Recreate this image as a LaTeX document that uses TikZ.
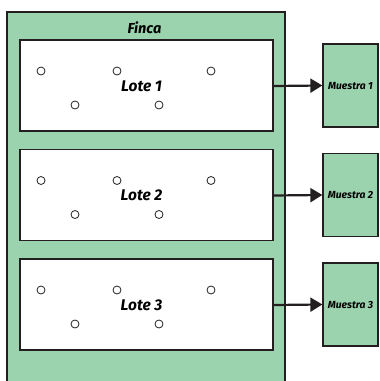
\documentclass[tikz,border=0pt]{standalone}
\usepackage{fontspec}
\setmainfont{Fira Sans}
\usetikzlibrary{arrows.meta}
\definecolor{fincagreen}{HTML}{9BD3AE}
\definecolor{inkline}{HTML}{231F20}
\tikzset{
  lotebox/.style={draw=inkline, line width=1.6pt, fill=white},
  samplebox/.style={draw=inkline, line width=1.3pt, fill=fincagreen, minimum width=55pt, minimum height=83pt, inner sep=0pt},
  plant/.style={circle, draw=inkline, line width=0.8pt, fill=white, minimum size=8pt, inner sep=0pt},
  lotelabel/.style={font=\bfseries\itshape\fontsize{15.5}{17}\selectfont, inner sep=0pt},
  samplelabel/.style={font=\bfseries\itshape\fontsize{10.3}{12}\selectfont, inner sep=0pt},
  feedarrow/.style={draw=inkline, line width=2.2pt, -{Triangle[length=12pt,width=14pt]}}
}
\begin{document}
\begin{tikzpicture}[x=1pt, y=-1pt]
\useasboundingbox (0,0) rectangle (380,381);
% farm area
\fill[fincagreen] (7,12) rectangle (285,381);
\draw[inkline, line width=1.6pt] (7,381) -- (7,12) -- (285,12) -- (285,381);
\node[font=\bfseries\itshape\fontsize{14.5}{16}\selectfont, inner sep=0pt] (finca) at (144.5,28) {Finca};
% three lots, each feeding one sample
\foreach \i/\ytop in {1/40, 2/149.5, 3/259} {
  \draw[lotebox] (20,\ytop) rectangle (273,\ytop+91);
  \coordinate (lot\i) at (273,\ytop+46);
  \node[lotelabel] (lbl\i) at (141.5,\ytop+46) {Lote \i};
  \node[plant] (p\i a) at (41,\ytop+31) {};
  \node[plant] (p\i b) at (117,\ytop+31) {};
  \node[plant] (p\i c) at (211,\ytop+31) {};
  \node[plant] (p\i d) at (75,\ytop+65) {};
  \node[plant] (p\i e) at (159,\ytop+65) {};
  \node[samplebox] (m\i) at (350.5,\ytop+45.5) {};
  \node[samplelabel] (ml\i) at (350.5,\ytop+46) {Muestra \i};
  \draw[feedarrow] (lot\i) -- (m\i.west);
}
\end{tikzpicture}
\end{document}
